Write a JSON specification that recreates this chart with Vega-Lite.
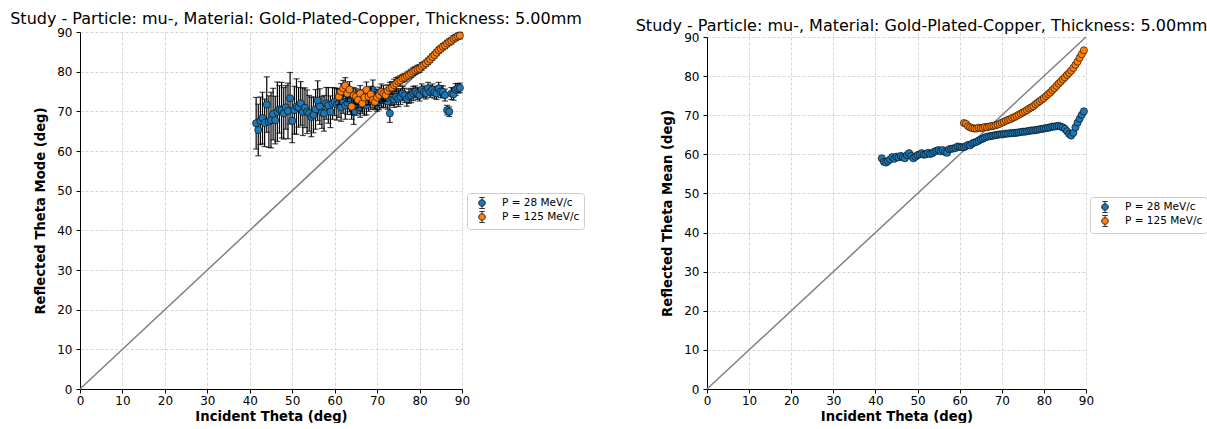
{
  "$schema": "https://vega.github.io/schema/vega-lite/v6.json",
  "padding": {"left": 10, "top": 11, "right": 0, "bottom": 0},
  "bounds": "flush",
  "spacing": 245,
  "datasets": {
    "diag": [{"t": 0, "v": 0}, {"t": 90, "v": 90}],
    "mode": [
      {"s":"P = 28 MeV/c","t":41.5,"v":67.0,"e":6.5},{"s":"P = 28 MeV/c","t":42.0,"v":65.3,"e":6.5},{"s":"P = 28 MeV/c","t":42.5,"v":67.6,"e":6},{"s":"P = 28 MeV/c","t":43.0,"v":68.3,"e":6.5},{"s":"P = 28 MeV/c","t":43.5,"v":67.1,"e":6},{"s":"P = 28 MeV/c","t":44.0,"v":71.7,"e":7},{"s":"P = 28 MeV/c","t":44.5,"v":67.4,"e":6.5},{"s":"P = 28 MeV/c","t":45.0,"v":67.8,"e":7},{"s":"P = 28 MeV/c","t":45.5,"v":69.3,"e":6.5},{"s":"P = 28 MeV/c","t":46.0,"v":67.8,"e":6},
      {"s":"P = 28 MeV/c","t":46.5,"v":69.9,"e":7.5},{"s":"P = 28 MeV/c","t":47.0,"v":70.5,"e":6},{"s":"P = 28 MeV/c","t":47.5,"v":70.3,"e":7},{"s":"P = 28 MeV/c","t":48.0,"v":69.5,"e":6.5},{"s":"P = 28 MeV/c","t":48.5,"v":71.0,"e":5.5},{"s":"P = 28 MeV/c","t":49.0,"v":70.1,"e":7},{"s":"P = 28 MeV/c","t":49.5,"v":73.3,"e":6.5},{"s":"P = 28 MeV/c","t":50.0,"v":67.6,"e":5.5},{"s":"P = 28 MeV/c","t":50.5,"v":70.3,"e":6},{"s":"P = 28 MeV/c","t":51.0,"v":71.2,"e":7},
      {"s":"P = 28 MeV/c","t":51.5,"v":71.0,"e":5},{"s":"P = 28 MeV/c","t":52.0,"v":72.0,"e":5.5},{"s":"P = 28 MeV/c","t":52.5,"v":69.9,"e":6},{"s":"P = 28 MeV/c","t":53.0,"v":70.9,"e":5},{"s":"P = 28 MeV/c","t":53.5,"v":69.9,"e":5.5},{"s":"P = 28 MeV/c","t":54.0,"v":69.5,"e":4.5},{"s":"P = 28 MeV/c","t":54.5,"v":68.6,"e":5},{"s":"P = 28 MeV/c","t":55.0,"v":69.1,"e":4.5},{"s":"P = 28 MeV/c","t":55.5,"v":70.5,"e":5},{"s":"P = 28 MeV/c","t":56.0,"v":72.7,"e":5},
      {"s":"P = 28 MeV/c","t":56.5,"v":71.2,"e":4.5},{"s":"P = 28 MeV/c","t":57.0,"v":69.7,"e":4},{"s":"P = 28 MeV/c","t":57.5,"v":69.5,"e":4.5},{"s":"P = 28 MeV/c","t":58.0,"v":72.0,"e":4},{"s":"P = 28 MeV/c","t":58.5,"v":71.5,"e":4.5},{"s":"P = 28 MeV/c","t":59.0,"v":69.9,"e":4},{"s":"P = 28 MeV/c","t":59.5,"v":72.0,"e":4},{"s":"P = 28 MeV/c","t":60.0,"v":72.4,"e":3.5},{"s":"P = 28 MeV/c","t":60.5,"v":71.8,"e":4},{"s":"P = 28 MeV/c","t":61.0,"v":72.0,"e":3.5},
      {"s":"P = 28 MeV/c","t":61.5,"v":71.0,"e":3.5},{"s":"P = 28 MeV/c","t":62.0,"v":72.5,"e":3},{"s":"P = 28 MeV/c","t":62.5,"v":71.5,"e":3.5},{"s":"P = 28 MeV/c","t":63.0,"v":72.2,"e":3},{"s":"P = 28 MeV/c","t":63.5,"v":72.9,"e":3},{"s":"P = 28 MeV/c","t":64.0,"v":71.0,"e":3},{"s":"P = 28 MeV/c","t":64.5,"v":69.7,"e":3},{"s":"P = 28 MeV/c","t":65.0,"v":71.5,"e":2.5},{"s":"P = 28 MeV/c","t":65.5,"v":72.4,"e":3},{"s":"P = 28 MeV/c","t":66.0,"v":71.0,"e":2.5},
      {"s":"P = 28 MeV/c","t":66.5,"v":72.0,"e":2.5},{"s":"P = 28 MeV/c","t":67.0,"v":71.5,"e":2.5},{"s":"P = 28 MeV/c","t":67.5,"v":71.6,"e":2.5},{"s":"P = 28 MeV/c","t":68.0,"v":72.5,"e":2.5},{"s":"P = 28 MeV/c","t":68.5,"v":73.0,"e":2.5},{"s":"P = 28 MeV/c","t":69.0,"v":75.4,"e":2.5},{"s":"P = 28 MeV/c","t":69.5,"v":72.6,"e":2},{"s":"P = 28 MeV/c","t":70.0,"v":72.0,"e":2},{"s":"P = 28 MeV/c","t":70.5,"v":72.4,"e":2},{"s":"P = 28 MeV/c","t":71.0,"v":72.9,"e":2},
      {"s":"P = 28 MeV/c","t":71.5,"v":73.0,"e":2},{"s":"P = 28 MeV/c","t":72.0,"v":72.9,"e":2},{"s":"P = 28 MeV/c","t":72.5,"v":72.5,"e":2},{"s":"P = 28 MeV/c","t":73.0,"v":69.5,"e":2.3},{"s":"P = 28 MeV/c","t":73.5,"v":73.5,"e":2},{"s":"P = 28 MeV/c","t":74.0,"v":73.0,"e":2},{"s":"P = 28 MeV/c","t":74.5,"v":73.7,"e":2},{"s":"P = 28 MeV/c","t":75.0,"v":73.2,"e":2},{"s":"P = 28 MeV/c","t":75.5,"v":73.7,"e":2},{"s":"P = 28 MeV/c","t":76.0,"v":74.5,"e":1.8},
      {"s":"P = 28 MeV/c","t":76.5,"v":74.0,"e":1.8},{"s":"P = 28 MeV/c","t":77.0,"v":73.1,"e":1.8},{"s":"P = 28 MeV/c","t":77.5,"v":73.8,"e":1.8},{"s":"P = 28 MeV/c","t":78.0,"v":74.0,"e":1.8},{"s":"P = 28 MeV/c","t":78.5,"v":74.5,"e":1.8},{"s":"P = 28 MeV/c","t":79.0,"v":74.9,"e":1.5},{"s":"P = 28 MeV/c","t":79.5,"v":74.5,"e":1.5},{"s":"P = 28 MeV/c","t":80.0,"v":74.1,"e":1.5},{"s":"P = 28 MeV/c","t":80.5,"v":75.4,"e":1.5},{"s":"P = 28 MeV/c","t":81.0,"v":74.9,"e":1.5},
      {"s":"P = 28 MeV/c","t":81.5,"v":74.6,"e":1.5},{"s":"P = 28 MeV/c","t":82.0,"v":75.8,"e":1.5},{"s":"P = 28 MeV/c","t":82.5,"v":75.0,"e":1.5},{"s":"P = 28 MeV/c","t":83.0,"v":75.4,"e":1.5},{"s":"P = 28 MeV/c","t":83.5,"v":74.8,"e":1.5},{"s":"P = 28 MeV/c","t":84.0,"v":74.5,"e":1.5},{"s":"P = 28 MeV/c","t":84.5,"v":75.8,"e":1.5},{"s":"P = 28 MeV/c","t":85.0,"v":75.0,"e":1.5},{"s":"P = 28 MeV/c","t":85.5,"v":74.9,"e":1.5},{"s":"P = 28 MeV/c","t":86.0,"v":74.1,"e":1.5},
      {"s":"P = 28 MeV/c","t":86.5,"v":70.3,"e":1.2},{"s":"P = 28 MeV/c","t":87.0,"v":69.9,"e":1.2},{"s":"P = 28 MeV/c","t":87.5,"v":74.5,"e":1.5},{"s":"P = 28 MeV/c","t":88.0,"v":74.3,"e":1.5},{"s":"P = 28 MeV/c","t":88.5,"v":75.5,"e":1.5},{"s":"P = 28 MeV/c","t":89.0,"v":75.8,"e":1.2},{"s":"P = 28 MeV/c","t":89.5,"v":75.9,"e":1.2},
      {"s":"P = 125 MeV/c","t":61.0,"v":73.7,"e":2},{"s":"P = 125 MeV/c","t":61.5,"v":75.0,"e":2},{"s":"P = 125 MeV/c","t":62.0,"v":75.8,"e":2},{"s":"P = 125 MeV/c","t":62.5,"v":76.5,"e":2},{"s":"P = 125 MeV/c","t":63.0,"v":74.5,"e":2},{"s":"P = 125 MeV/c","t":63.5,"v":75.5,"e":2},{"s":"P = 125 MeV/c","t":64.0,"v":71.2,"e":2},{"s":"P = 125 MeV/c","t":64.5,"v":74.0,"e":2},{"s":"P = 125 MeV/c","t":65.0,"v":73.7,"e":2},{"s":"P = 125 MeV/c","t":65.5,"v":72.9,"e":2},
      {"s":"P = 125 MeV/c","t":66.0,"v":74.5,"e":2},{"s":"P = 125 MeV/c","t":66.5,"v":72.0,"e":2},{"s":"P = 125 MeV/c","t":67.0,"v":73.5,"e":2},{"s":"P = 125 MeV/c","t":67.5,"v":75.4,"e":2},{"s":"P = 125 MeV/c","t":68.0,"v":73.7,"e":2},{"s":"P = 125 MeV/c","t":68.5,"v":74.3,"e":2},{"s":"P = 125 MeV/c","t":69.0,"v":72.9,"e":2},{"s":"P = 125 MeV/c","t":69.5,"v":72.4,"e":2},{"s":"P = 125 MeV/c","t":70.0,"v":73.5,"e":2},{"s":"P = 125 MeV/c","t":70.5,"v":74.1,"e":2},
      {"s":"P = 125 MeV/c","t":71.0,"v":74.9,"e":2},{"s":"P = 125 MeV/c","t":71.5,"v":74.5,"e":2},{"s":"P = 125 MeV/c","t":72.0,"v":74.1,"e":1.5},{"s":"P = 125 MeV/c","t":72.5,"v":75.2,"e":1.5},{"s":"P = 125 MeV/c","t":73.0,"v":75.8,"e":1.5},{"s":"P = 125 MeV/c","t":73.5,"v":76.0,"e":1.5},{"s":"P = 125 MeV/c","t":74.0,"v":76.6,"e":1.5},{"s":"P = 125 MeV/c","t":74.5,"v":77.0,"e":1.5},{"s":"P = 125 MeV/c","t":75.0,"v":77.5,"e":1.2},{"s":"P = 125 MeV/c","t":75.5,"v":77.8,"e":1.2},
      {"s":"P = 125 MeV/c","t":76.0,"v":78.3,"e":1},{"s":"P = 125 MeV/c","t":76.5,"v":78.5,"e":1},{"s":"P = 125 MeV/c","t":77.0,"v":78.9,"e":1},{"s":"P = 125 MeV/c","t":77.5,"v":79.2,"e":1},{"s":"P = 125 MeV/c","t":78.0,"v":79.6,"e":1},{"s":"P = 125 MeV/c","t":78.5,"v":80.0,"e":1},{"s":"P = 125 MeV/c","t":79.0,"v":80.3,"e":1},{"s":"P = 125 MeV/c","t":79.5,"v":80.6,"e":1},{"s":"P = 125 MeV/c","t":80.0,"v":80.8,"e":1},{"s":"P = 125 MeV/c","t":80.5,"v":81.3,"e":1},
      {"s":"P = 125 MeV/c","t":81.0,"v":81.7,"e":0.8},{"s":"P = 125 MeV/c","t":81.5,"v":82.1,"e":0.8},{"s":"P = 125 MeV/c","t":82.0,"v":82.6,"e":0.8},{"s":"P = 125 MeV/c","t":82.5,"v":83.1,"e":0.8},{"s":"P = 125 MeV/c","t":83.0,"v":83.7,"e":0.8},{"s":"P = 125 MeV/c","t":83.5,"v":84.2,"e":0.8},{"s":"P = 125 MeV/c","t":84.0,"v":84.8,"e":0.8},{"s":"P = 125 MeV/c","t":84.5,"v":85.4,"e":0.8},{"s":"P = 125 MeV/c","t":85.0,"v":85.8,"e":0.8},{"s":"P = 125 MeV/c","t":85.5,"v":86.3,"e":0.8},
      {"s":"P = 125 MeV/c","t":86.0,"v":86.6,"e":0.8},{"s":"P = 125 MeV/c","t":86.5,"v":87.1,"e":0.8},{"s":"P = 125 MeV/c","t":87.0,"v":87.5,"e":0.8},{"s":"P = 125 MeV/c","t":87.5,"v":87.8,"e":0.8},{"s":"P = 125 MeV/c","t":88.0,"v":88.3,"e":0.8},{"s":"P = 125 MeV/c","t":88.5,"v":88.6,"e":0.8},{"s":"P = 125 MeV/c","t":89.0,"v":88.9,"e":0.8},{"s":"P = 125 MeV/c","t":89.5,"v":89.1,"e":0.8}
    ],
    "mean": [
      {"s":"P = 28 MeV/c","t":41.5,"v":59.0},{"s":"P = 28 MeV/c","t":42.0,"v":58.1},{"s":"P = 28 MeV/c","t":42.5,"v":57.9},{"s":"P = 28 MeV/c","t":43.0,"v":58.3},{"s":"P = 28 MeV/c","t":43.5,"v":58.7},{"s":"P = 28 MeV/c","t":44.0,"v":59.3},{"s":"P = 28 MeV/c","t":44.5,"v":58.9},{"s":"P = 28 MeV/c","t":45.0,"v":59.4},{"s":"P = 28 MeV/c","t":45.5,"v":59.2},{"s":"P = 28 MeV/c","t":46.0,"v":59.6},
      {"s":"P = 28 MeV/c","t":46.5,"v":59.3},{"s":"P = 28 MeV/c","t":47.0,"v":59.0},{"s":"P = 28 MeV/c","t":47.5,"v":59.8},{"s":"P = 28 MeV/c","t":48.0,"v":60.3},{"s":"P = 28 MeV/c","t":48.5,"v":59.6},{"s":"P = 28 MeV/c","t":49.0,"v":59.0},{"s":"P = 28 MeV/c","t":49.5,"v":59.4},{"s":"P = 28 MeV/c","t":50.0,"v":59.8},{"s":"P = 28 MeV/c","t":50.5,"v":60.0},{"s":"P = 28 MeV/c","t":51.0,"v":60.3},
      {"s":"P = 28 MeV/c","t":51.5,"v":59.9},{"s":"P = 28 MeV/c","t":52.0,"v":60.0},{"s":"P = 28 MeV/c","t":52.5,"v":60.4},{"s":"P = 28 MeV/c","t":53.0,"v":60.1},{"s":"P = 28 MeV/c","t":53.5,"v":60.3},{"s":"P = 28 MeV/c","t":54.0,"v":60.7},{"s":"P = 28 MeV/c","t":54.5,"v":60.9},{"s":"P = 28 MeV/c","t":55.0,"v":61.1},{"s":"P = 28 MeV/c","t":55.5,"v":60.8},{"s":"P = 28 MeV/c","t":56.0,"v":61.1},
      {"s":"P = 28 MeV/c","t":56.5,"v":60.6},{"s":"P = 28 MeV/c","t":57.0,"v":60.4},{"s":"P = 28 MeV/c","t":57.5,"v":61.3},{"s":"P = 28 MeV/c","t":58.0,"v":61.4},{"s":"P = 28 MeV/c","t":58.5,"v":61.5},{"s":"P = 28 MeV/c","t":59.0,"v":61.6},{"s":"P = 28 MeV/c","t":59.5,"v":62.0},{"s":"P = 28 MeV/c","t":60.0,"v":61.9},{"s":"P = 28 MeV/c","t":60.5,"v":61.8},{"s":"P = 28 MeV/c","t":61.0,"v":61.8},
      {"s":"P = 28 MeV/c","t":61.5,"v":62.1},{"s":"P = 28 MeV/c","t":62.0,"v":62.4},{"s":"P = 28 MeV/c","t":62.5,"v":62.3},{"s":"P = 28 MeV/c","t":63.0,"v":62.8},{"s":"P = 28 MeV/c","t":63.5,"v":63.0},{"s":"P = 28 MeV/c","t":64.0,"v":63.2},{"s":"P = 28 MeV/c","t":64.5,"v":63.5},{"s":"P = 28 MeV/c","t":65.0,"v":63.8},{"s":"P = 28 MeV/c","t":65.5,"v":64.0},{"s":"P = 28 MeV/c","t":66.0,"v":64.3},
      {"s":"P = 28 MeV/c","t":66.5,"v":64.5},{"s":"P = 28 MeV/c","t":67.0,"v":64.6},{"s":"P = 28 MeV/c","t":67.5,"v":64.7},{"s":"P = 28 MeV/c","t":68.0,"v":64.8},{"s":"P = 28 MeV/c","t":68.5,"v":64.9},{"s":"P = 28 MeV/c","t":69.0,"v":65.0},{"s":"P = 28 MeV/c","t":69.5,"v":65.1},{"s":"P = 28 MeV/c","t":70.0,"v":65.1},{"s":"P = 28 MeV/c","t":70.5,"v":65.2},{"s":"P = 28 MeV/c","t":71.0,"v":65.3},
      {"s":"P = 28 MeV/c","t":71.5,"v":65.3},{"s":"P = 28 MeV/c","t":72.0,"v":65.4},{"s":"P = 28 MeV/c","t":72.5,"v":65.4},{"s":"P = 28 MeV/c","t":73.0,"v":65.5},{"s":"P = 28 MeV/c","t":73.5,"v":65.5},{"s":"P = 28 MeV/c","t":74.0,"v":65.6},{"s":"P = 28 MeV/c","t":74.5,"v":65.7},{"s":"P = 28 MeV/c","t":75.0,"v":65.8},{"s":"P = 28 MeV/c","t":75.5,"v":65.8},{"s":"P = 28 MeV/c","t":76.0,"v":65.9},
      {"s":"P = 28 MeV/c","t":76.5,"v":66.0},{"s":"P = 28 MeV/c","t":77.0,"v":66.1},{"s":"P = 28 MeV/c","t":77.5,"v":66.1},{"s":"P = 28 MeV/c","t":78.0,"v":66.2},{"s":"P = 28 MeV/c","t":78.5,"v":66.3},{"s":"P = 28 MeV/c","t":79.0,"v":66.4},{"s":"P = 28 MeV/c","t":79.5,"v":66.5},{"s":"P = 28 MeV/c","t":80.0,"v":66.6},{"s":"P = 28 MeV/c","t":80.5,"v":66.7},{"s":"P = 28 MeV/c","t":81.0,"v":66.8},
      {"s":"P = 28 MeV/c","t":81.5,"v":66.9},{"s":"P = 28 MeV/c","t":82.0,"v":67.1},{"s":"P = 28 MeV/c","t":82.5,"v":67.1},{"s":"P = 28 MeV/c","t":83.0,"v":67.2},{"s":"P = 28 MeV/c","t":83.5,"v":67.3},{"s":"P = 28 MeV/c","t":84.0,"v":67.1},{"s":"P = 28 MeV/c","t":84.5,"v":66.9},{"s":"P = 28 MeV/c","t":85.0,"v":66.5},{"s":"P = 28 MeV/c","t":85.5,"v":65.9},{"s":"P = 28 MeV/c","t":86.0,"v":65.2},
      {"s":"P = 28 MeV/c","t":86.5,"v":64.8},{"s":"P = 28 MeV/c","t":87.0,"v":65.5},{"s":"P = 28 MeV/c","t":87.5,"v":66.9},{"s":"P = 28 MeV/c","t":88.0,"v":68.1},{"s":"P = 28 MeV/c","t":88.5,"v":69.1},{"s":"P = 28 MeV/c","t":89.0,"v":70.1},{"s":"P = 28 MeV/c","t":89.5,"v":71.0},
      {"s":"P = 125 MeV/c","t":61.0,"v":68.0},{"s":"P = 125 MeV/c","t":61.5,"v":67.8},{"s":"P = 125 MeV/c","t":62.0,"v":67.2},{"s":"P = 125 MeV/c","t":62.5,"v":66.9},{"s":"P = 125 MeV/c","t":63.0,"v":66.7},{"s":"P = 125 MeV/c","t":63.5,"v":66.6},{"s":"P = 125 MeV/c","t":64.0,"v":66.6},{"s":"P = 125 MeV/c","t":64.5,"v":66.8},{"s":"P = 125 MeV/c","t":65.0,"v":66.7},{"s":"P = 125 MeV/c","t":65.5,"v":66.8},
      {"s":"P = 125 MeV/c","t":66.0,"v":67.0},{"s":"P = 125 MeV/c","t":66.5,"v":66.9},{"s":"P = 125 MeV/c","t":67.0,"v":67.1},{"s":"P = 125 MeV/c","t":67.5,"v":67.2},{"s":"P = 125 MeV/c","t":68.0,"v":67.3},{"s":"P = 125 MeV/c","t":68.5,"v":67.4},{"s":"P = 125 MeV/c","t":69.0,"v":67.6},{"s":"P = 125 MeV/c","t":69.5,"v":67.8},{"s":"P = 125 MeV/c","t":70.0,"v":68.1},{"s":"P = 125 MeV/c","t":70.5,"v":68.3},
      {"s":"P = 125 MeV/c","t":71.0,"v":68.6},{"s":"P = 125 MeV/c","t":71.5,"v":68.8},{"s":"P = 125 MeV/c","t":72.0,"v":69.0},{"s":"P = 125 MeV/c","t":72.5,"v":69.3},{"s":"P = 125 MeV/c","t":73.0,"v":69.5},{"s":"P = 125 MeV/c","t":73.5,"v":69.8},{"s":"P = 125 MeV/c","t":74.0,"v":70.1},{"s":"P = 125 MeV/c","t":74.5,"v":70.4},{"s":"P = 125 MeV/c","t":75.0,"v":70.7},{"s":"P = 125 MeV/c","t":75.5,"v":71.0},
      {"s":"P = 125 MeV/c","t":76.0,"v":71.3},{"s":"P = 125 MeV/c","t":76.5,"v":71.7},{"s":"P = 125 MeV/c","t":77.0,"v":72.0},{"s":"P = 125 MeV/c","t":77.5,"v":72.3},{"s":"P = 125 MeV/c","t":78.0,"v":72.8},{"s":"P = 125 MeV/c","t":78.5,"v":73.2},{"s":"P = 125 MeV/c","t":79.0,"v":73.6},{"s":"P = 125 MeV/c","t":79.5,"v":74.0},{"s":"P = 125 MeV/c","t":80.0,"v":74.4},{"s":"P = 125 MeV/c","t":80.5,"v":74.9},
      {"s":"P = 125 MeV/c","t":81.0,"v":75.4},{"s":"P = 125 MeV/c","t":81.5,"v":75.8},{"s":"P = 125 MeV/c","t":82.0,"v":76.4},{"s":"P = 125 MeV/c","t":82.5,"v":76.9},{"s":"P = 125 MeV/c","t":83.0,"v":77.5},{"s":"P = 125 MeV/c","t":83.5,"v":78.1},{"s":"P = 125 MeV/c","t":84.0,"v":78.6},{"s":"P = 125 MeV/c","t":84.5,"v":79.2},{"s":"P = 125 MeV/c","t":85.0,"v":79.7},{"s":"P = 125 MeV/c","t":85.5,"v":80.3},
      {"s":"P = 125 MeV/c","t":86.0,"v":80.8},{"s":"P = 125 MeV/c","t":86.5,"v":81.4},{"s":"P = 125 MeV/c","t":87.0,"v":82.1},{"s":"P = 125 MeV/c","t":87.5,"v":82.9},{"s":"P = 125 MeV/c","t":88.0,"v":83.7},{"s":"P = 125 MeV/c","t":88.5,"v":84.7},{"s":"P = 125 MeV/c","t":89.0,"v":85.6},{"s":"P = 125 MeV/c","t":89.5,"v":86.6}
    ]
  },
  "hconcat": [
    {
      "width": 382,
      "height": 357,
      "title": {"text": "Study - Particle: mu-, Material: Gold-Plated-Copper, Thickness: 5.00mm", "anchor": "middle", "frame": "group", "dx": 25, "offset": -14, "baseline": "alphabetic", "fontSize": 16, "fontWeight": "normal", "font": "DejaVu Sans", "color": "black"},
      "encoding": {
        "x": {"field": "t", "type": "quantitative", "scale": {"domain": [0, 90], "nice": false, "zero": true}, "axis": {"title": "Incident Theta (deg)", "values": [0,10,20,30,40,50,60,70,80,90]}},
        "y": {"field": "v", "type": "quantitative", "scale": {"domain": [0, 90], "nice": false, "zero": true}, "axis": {"title": "Reflected Theta Mode (deg)", "values": [0,10,20,30,40,50,60,70,80,90]}}
      },
      "layer": [
        {"data": {"name": "diag"}, "mark": {"type": "line", "color": "#808080", "strokeWidth": 1.5}},
        {"data": {"name": "mode"}, "transform": [{"filter": "datum.s == 'P = 28 MeV/c'"}], "mark": {"type": "errorbar", "ticks": {"size": 6, "color": "black", "thickness": 1.2}, "rule": {"color": "black", "strokeWidth": 1.2}}, "encoding": {"yError": {"field": "e"}}},
        {"data": {"name": "mode"}, "transform": [{"filter": "datum.s == 'P = 28 MeV/c'"}], "mark": {"type": "circle", "size": 52, "opacity": 1, "stroke": "black", "strokeWidth": 0.6},
         "encoding": {"color": {"field": "s", "type": "nominal", "scale": {"domain": ["P = 28 MeV/c", "P = 125 MeV/c"], "range": ["#1f77b4", "#ff7f0e"]}, "legend": {"title": null, "orient": "none", "legendX": 387, "legendY": 161}}}},
        {"data": {"name": "mode"}, "transform": [{"filter": "datum.s == 'P = 125 MeV/c'"}], "mark": {"type": "errorbar", "ticks": {"size": 6, "color": "black", "thickness": 1.2}, "rule": {"color": "black", "strokeWidth": 1.2}}, "encoding": {"yError": {"field": "e"}}},
        {"data": {"name": "mode"}, "transform": [{"filter": "datum.s == 'P = 125 MeV/c'"}], "mark": {"type": "circle", "size": 52, "opacity": 1, "stroke": "black", "strokeWidth": 0.6},
         "encoding": {"color": {"field": "s", "type": "nominal", "scale": {"domain": ["P = 28 MeV/c", "P = 125 MeV/c"], "range": ["#1f77b4", "#ff7f0e"]}, "legend": {"title": null, "orient": "none", "legendX": 387, "legendY": 161}}}}
      ]
    },
    {
      "width": 379,
      "height": 357,
      "title": {"text": "Study - Particle: mu-, Material: Gold-Plated-Copper, Thickness: 5.00mm", "anchor": "middle", "frame": "group", "dx": 25, "offset": -16, "baseline": "alphabetic", "fontSize": 16, "fontWeight": "normal", "font": "DejaVu Sans", "color": "black"},
      "encoding": {
        "x": {"field": "t", "type": "quantitative", "scale": {"domain": [0, 90], "nice": false, "zero": true}, "axis": {"title": "Incident Theta (deg)", "values": [0,10,20,30,40,50,60,70,80,90]}},
        "y": {"field": "v", "type": "quantitative", "scale": {"domain": [0, 90], "nice": false, "zero": true, "range": [357, 5]}, "axis": {"title": "Reflected Theta Mean (deg)", "values": [0,10,20,30,40,50,60,70,80,90]}}
      },
      "layer": [
        {"data": {"name": "diag"}, "mark": {"type": "line", "color": "#808080", "strokeWidth": 1.5}},
        {"data": {"name": "mean"}, "transform": [{"filter": "datum.s == 'P = 28 MeV/c'"}], "mark": {"type": "circle", "size": 52, "opacity": 1, "stroke": "black", "strokeWidth": 0.6},
         "encoding": {"color": {"field": "s", "type": "nominal", "scale": {"domain": ["P = 28 MeV/c", "P = 125 MeV/c"], "range": ["#1f77b4", "#ff7f0e"]}, "legend": {"title": null, "orient": "none", "legendX": 383, "legendY": 165}}}},
        {"data": {"name": "mean"}, "transform": [{"filter": "datum.s == 'P = 125 MeV/c'"}], "mark": {"type": "circle", "size": 52, "opacity": 1, "stroke": "black", "strokeWidth": 0.6},
         "encoding": {"color": {"field": "s", "type": "nominal", "scale": {"domain": ["P = 28 MeV/c", "P = 125 MeV/c"], "range": ["#1f77b4", "#ff7f0e"]}, "legend": {"title": null, "orient": "none", "legendX": 383, "legendY": 165}}}}
      ]
    }
  ],
  "resolve": {"scale": {"color": "independent"}, "legend": {"color": "independent"}},
  "config": {
    "font": "DejaVu Sans",
    "view": {"stroke": null},
    "axis": {"domainColor": "black", "domainWidth": 1, "tickColor": "black", "tickSize": 4, "tickWidth": 1, "labelFont": "DejaVu Sans", "labelFontSize": 12, "labelColor": "black", "labelFlush": false, "titleFont": "DejaVu Sans", "titleFontSize": 13.2, "titleFontWeight": "bold", "titleColor": "black", "gridColor": "#c4c4c4", "gridDash": [3, 2], "gridWidth": 0.7},
    "axisX": {"labelPadding": 2, "titlePadding": 4},
    "axisY": {"labelPadding": 4, "titlePadding": 9},
    "legend": {"symbolType": "M0,-1V-0.6M0,0.6V1M-0.5,-1H0.5M-0.5,1H0.5M0.6,0C0.6,0.331,0.331,0.6,0,0.6C-0.331,0.6,-0.6,0.331,-0.6,0C-0.6,-0.331,-0.331,-0.6,0,-0.6C0.331,-0.6,0.6,-0.331,0.6,0Z", "symbolSize": 121, "symbolStrokeColor": "black", "symbolStrokeWidth": 0.8, "symbolOpacity": 1, "labelFont": "DejaVu Sans", "labelFontSize": 10.5, "labelColor": "black", "labelOffset": 14, "strokeColor": "#cccccc", "fillColor": "white", "cornerRadius": 3, "padding": 4, "symbolOffset": 5, "rowPadding": -4}
  }
}
